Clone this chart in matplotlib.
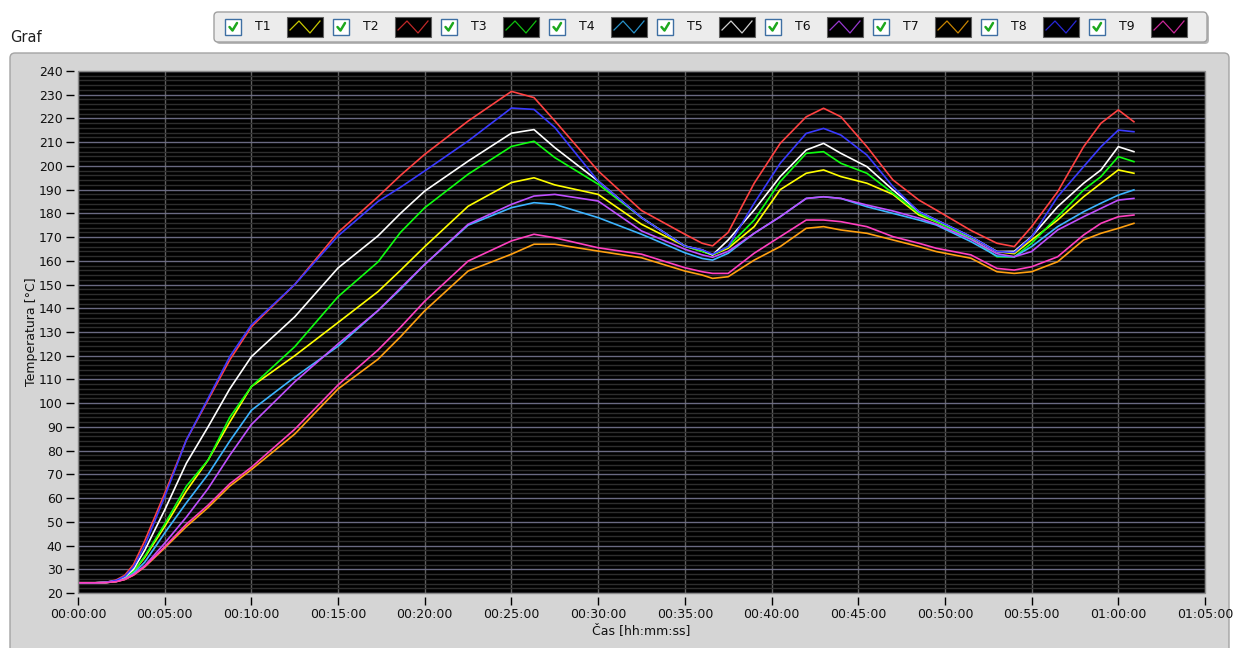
import matplotlib
matplotlib.use('Agg')
import matplotlib.pyplot as plt
from matplotlib.patches import FancyBboxPatch, Rectangle
from matplotlib.lines import Line2D
from matplotlib.ticker import MultipleLocator, FuncFormatter
from matplotlib.transforms import Affine2D

# ---------------- data (time in minutes, temperature in °C) ----------------
time_min = [0, 1, 1.6, 2.2, 2.7, 3.2, 3.85, 5, 6.25, 7.5,
            8.75, 10, 12.5, 15, 17.3, 18.6, 20, 22.5, 25, 26.3,
            27.5, 30, 32.5, 35, 36, 36.6, 37.5, 39, 40.5, 42,
            43, 44, 45.5, 47, 48.5, 49.5, 51.5, 53, 54, 55,
            56.5, 58, 59, 60, 60.9]

T1 = [24.3, 24.3, 24.4, 25.0, 26.3, 29.0, 35.0, 48, 63, 76,
      92, 107, 120, 134, 147, 156, 166, 183, 193, 195,
      192, 188, 175.4, 166.2, 164, 162.5, 165.3, 174.4, 190, 196.9,
      198.3, 195.5, 192.7, 188, 179.3, 176.5, 170, 163.9, 163, 168.8,
      177.2, 187, 192.7, 198.3, 196.9]
T2 = [24.3, 24.3, 24.5, 25.5, 27.5, 32.0, 42.0, 62, 84.5, 101.3,
      118.2, 132.2, 150, 172, 187, 196, 204.9, 218.9, 231.4, 228.8,
      219, 197.9, 181.2, 171.2, 167.4, 166.3, 172, 192.7, 209.5, 220.7,
      224.3, 220.7, 208.1, 194.1, 185.6, 181.4, 172.8, 167.4, 166, 174.4,
      189.1, 208.1, 218, 223.6, 218.6]
T3 = [24.3, 24.3, 24.4, 25.0, 26.3, 29.0, 35.5, 49, 65, 76,
      94, 107, 123.8, 144.9, 159.5, 172, 182.4, 196.5, 208.2, 210.4,
      203.5, 192.3, 178.2, 166.2, 164, 162.5, 166, 177.2, 193.4, 205.3,
      206, 201.1, 196.9, 188.5, 180, 176.5, 169.5, 161.7, 161.7, 167.4,
      178.6, 189.9, 195.5, 203.9, 201.8]
T4 = [24.3, 24.3, 24.4, 24.9, 26.0, 28.3, 33.0, 45.3, 58, 70,
      84, 97, 111, 124, 139, 148, 158.5, 175, 182.4, 184.5,
      183.8, 178.2, 171.2, 163.4, 161, 160.3, 163.2, 171.6, 178.6, 186.3,
      187, 186.3, 182.8, 180, 177.2, 175.1, 168.1, 162, 161.7, 166,
      174.4, 180.7, 184.3, 187.7, 189.9]
T5 = [24.3, 24.3, 24.5, 25.2, 26.8, 30.0, 38.0, 55, 74.7, 90,
      106, 119.6, 136.4, 157, 170.5, 180, 189.4, 202, 213.8, 215.3,
      207.7, 193.6, 178.2, 166.2, 164.6, 162.5, 168.8, 181.4, 195.5, 206.7,
      209.5, 205.3, 199.7, 189.9, 180.7, 177.2, 170.2, 163.9, 164, 170.2,
      182.8, 192.7, 198.3, 208.1, 206]
T6 = [24.3, 24.3, 24.4, 24.8, 25.8, 27.8, 31.5, 41, 52, 64,
      78, 91, 109, 125, 139, 148.5, 158.5, 175.4, 183.8, 187.3,
      188, 185.2, 172.6, 164.9, 162.5, 161.5, 164, 171.6, 178.6, 186.3,
      187, 186.3, 183.5, 181, 178, 175.5, 169, 163, 161.7, 163.9,
      173, 178.6, 182.1, 185.6, 186.3]
T7 = [24.3, 24.3, 24.4, 24.8, 25.7, 27.5, 31.0, 39, 48, 56,
      65, 72, 87, 106, 118.5, 128, 139, 155.7, 162.8, 167,
      167, 164.1, 161.3, 155.7, 154, 152.6, 153.3, 160.3, 166, 173.7,
      174.4, 173, 171.6, 168.8, 166, 163.9, 161.1, 155.4, 154.7, 155.4,
      159.6, 168.8, 171.6, 173.7, 175.8]
T8 = [24.3, 24.3, 24.5, 25.3, 27.0, 31.0, 40.0, 60.6, 84.5, 102,
      119.6, 133, 150, 170.5, 185, 191, 197.9, 210.5, 224.4, 223.8,
      216.2, 193.6, 178.2, 166.2, 164.6, 162.8, 166, 184.3, 201.1, 213.7,
      215.8, 213, 204.6, 191.3, 180.7, 177.2, 170.2, 163.9, 163.5, 170,
      187, 199.7, 208.1, 215.1, 214.4]
T9 = [24.3, 24.3, 24.4, 24.8, 25.7, 27.6, 31.2, 39.5, 49, 57,
      66, 73, 89, 107.7, 122.4, 132, 143, 159.9, 168.4, 171.2,
      169.7, 165.5, 162.8, 157.1, 155.4, 154.7, 154.7, 163.2, 170.2, 177.2,
      177.2, 176.5, 174.4, 170.2, 167.4, 165.3, 162.5, 156.8, 156.1, 157.5,
      161.7, 170.9, 175.8, 178.6, 179.3]

series_names = ['T1', 'T2', 'T3', 'T4', 'T5', 'T6', 'T7', 'T8', 'T9']
series_values = [T1, T2, T3, T4, T5, T6, T7, T8, T9]
series_colors = ['#FFFF00', '#FF4242', '#10FF10', '#3CB4FF', '#FFFFFF',
                 '#C050FF', '#FFA010', '#3A3AFF', '#FF40C0']
swatch_colors = ['#C8C800', '#C02828', '#10C010', '#2890C8', '#D0D0D0',
                 '#9838D0', '#C88400', '#2828D8', '#C82898']

x_ticks_min = list(range(0, 66, 5))
y_ticks = list(range(20, 241, 10))

# ---------------- figure ----------------
W, H = 1233, 648
fig = plt.figure(figsize=(W / 100, H / 100), dpi=100, facecolor='white')
pix = Affine2D().scale(1, -1).translate(0, H).scale(1 / W, 1 / H) + fig.transFigure

FONT = 'DejaVu Sans'

# graph panel
fig.patches.append(FancyBboxPatch((10, 53), 1219, 640, boxstyle='round,pad=0,rounding_size=5',
                                  transform=pix, facecolor='#D5D5D5', edgecolor='#A4A4A4',
                                  lw=1.0, zorder=-10))

fig.text(10, 38, 'Graf', transform=pix, fontsize=10.5, family=FONT, va='center', ha='left',
         color='#202020')

# legend box (shadow + box)
fig.patches.append(FancyBboxPatch((216, 14), 993, 30, boxstyle='round,pad=0,rounding_size=4',
                                  transform=pix, facecolor='#B8B8B8', edgecolor='none', zorder=1))
fig.patches.append(FancyBboxPatch((214, 12), 993, 30, boxstyle='round,pad=0,rounding_size=4',
                                  transform=pix, facecolor='#ECECEC', edgecolor='#A0A0A0',
                                  lw=1.0, zorder=2))
for i, (name, sc) in enumerate(zip(series_names, swatch_colors)):
    x0 = 225 + i * 108
    fig.patches.append(Rectangle((x0, 19), 16, 16, transform=pix, facecolor='white',
                                 edgecolor='#3E6FA3', lw=1.0, zorder=3))
    fig.lines.append(Line2D([x0 + 4.5, x0 + 7.5, x0 + 12], [27, 30.5, 23], transform=pix,
                            color='#1EA81E', lw=1.8, zorder=4, solid_capstyle='round'))
    fig.text(x0 + 38, 27, name, transform=pix, fontsize=9, family=FONT, ha='center',
             va='center', color='#101010', zorder=4)
    fig.patches.append(Rectangle((x0 + 62, 17), 36, 20, transform=pix, facecolor='black',
                                 edgecolor='#606060', lw=0.8, zorder=3))
    fig.lines.append(Line2D([x0 + 65, x0 + 74, x0 + 85, x0 + 95], [30, 21, 33, 21],
                            transform=pix, color=sc, lw=0.9, zorder=4))

# ---------------- axes ----------------
L, R, T, B = 78, 1205, 71, 593
ax = fig.add_axes([L / W, 1 - B / H, (R - L) / W, (B - T) / H], facecolor='black')
ax.set_zorder(5)

for name, vals, c in zip(series_names, series_values, series_colors):
    ax.plot(time_min, vals, color=c, lw=1.2, solid_joinstyle='round')

ax.set_xlim(0, 65)
ax.set_ylim(20, 240)
ax.set_xticks(x_ticks_min)
ax.set_yticks(y_ticks)
ax.yaxis.set_minor_locator(MultipleLocator(2))
ax.xaxis.set_major_formatter(FuncFormatter(
    lambda m, pos: f"{int(round(m)) // 60:02d}:{int(round(m)) % 60:02d}:00"))

ax.grid(which='major', axis='x', color='#5E5E5E', lw=1.0)
ax.grid(which='major', axis='y', color='#6A6A82', lw=1.0)
ax.grid(which='minor', axis='y', color='#2E2E2E', lw=1.0)
ax.set_axisbelow(True)

for s in ax.spines.values():
    s.set_visible(False)
ax.spines['left'].set_position(('outward', 3))
ax.spines['bottom'].set_position(('outward', 3))
ax.add_patch(Rectangle((0, 0), 1, 1, transform=ax.transAxes, fill=False,
                       edgecolor='#8A8A8A', lw=1.0, clip_on=False, zorder=10))

ax.tick_params(axis='both', which='major', length=6, width=1, color='black',
               labelsize=9, labelcolor='#101010', pad=2)
ax.tick_params(axis='both', which='minor', length=0)
for lab in ax.get_xticklabels() + ax.get_yticklabels():
    lab.set_family(FONT)

fig.text(641, 631, 'Čas [hh:mm:ss]', transform=pix, fontsize=9, family=FONT,
         ha='center', va='center', color='#101010')
fig.text(32, 332, 'Temperatura [°C]', transform=pix, fontsize=9, family=FONT,
         ha='center', va='center', rotation=90, color='#101010')

fig.savefig('out.png', dpi=100, facecolor=fig.get_facecolor())
